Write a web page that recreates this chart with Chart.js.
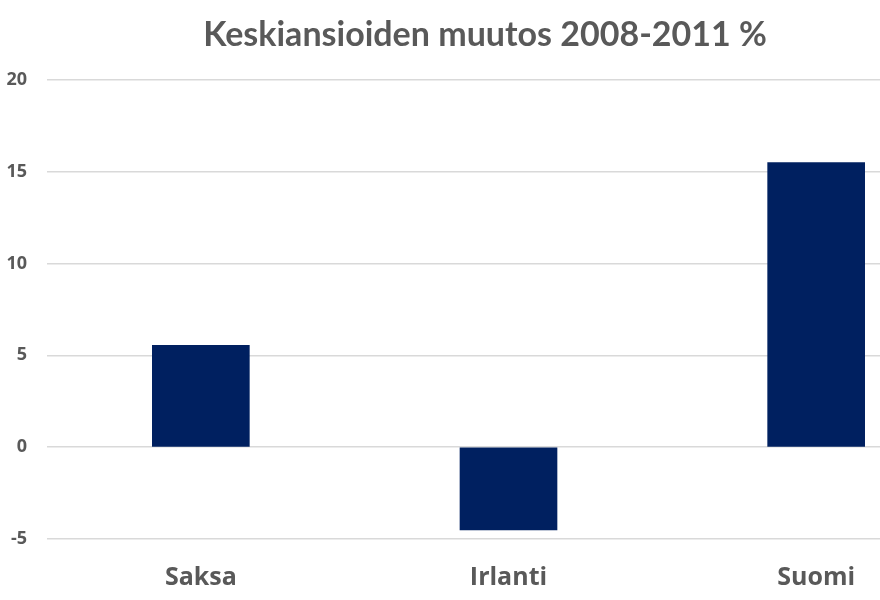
<!DOCTYPE html>
<html>
<head>
<meta charset="utf-8">
<script src="https://cdn.jsdelivr.net/npm/chart.js@4"></script>
<style>
    html, body { margin: 0; padding: 0; background: #fff; overflow: hidden; }
    #wrap { width: 980px; height: 600px; }
</style>
</head>
<body>
<div id="wrap"><canvas id="dataChart" width="980" height="600"></canvas></div>
<script>
// Chart data
const countries = ['Saksa', 'Irlanti', 'Suomi'];
const changePct = [5.55, -4.5, 15.5];
const yTicks = [-5, 0, 5, 10, 15, 20];

const textColor = '#595959';

new Chart(document.getElementById('dataChart'), {
    type: 'bar',
    data: {
        labels: countries,
        datasets: [{
            data: changePct,
            backgroundColor: '#002060',
            barThickness: 97,
        }],
    },
    options: {
        responsive: false,
        animation: false,
        layout: { padding: { top: 0, right: 10, bottom: 10, left: 0 } },
        plugins: {
            legend: { display: false },
            tooltip: { enabled: false },
            title: {
                display: true,
                text: 'Keskiansioiden muutos 2008-2011 %',
                color: textColor,
                font: { family: 'Lato, sans-serif', size: 34, weight: 'bold' },
                padding: { top: 15, bottom: 24 },
            },
        },
        scales: {
            x: {
                afterFit: (scale) => { scale.height = 51; },
                grid: { display: false, drawTicks: false },
                border: { display: false },
                ticks: {
                    color: textColor,
                    padding: 24,
                    font: { family: '"Open Sans", sans-serif', size: 25, weight: 'bold' },
                },
            },
            y: {
                min: -5,
                max: 20,
                afterFit: (scale) => { scale.width = 47; },
                afterBuildTicks: (scale) => { scale.ticks = yTicks.map(v => ({ value: v })); },
                grid: { color: '#d9d9d9', drawTicks: false, lineWidth: 1.5 },
                border: { display: false },
                ticks: {
                    color: textColor,
                    padding: 20,
                    font: { family: '"Open Sans", sans-serif', size: 18, weight: 'bold' },
                },
            },
        },
    },
});
</script>
</body>
</html>
